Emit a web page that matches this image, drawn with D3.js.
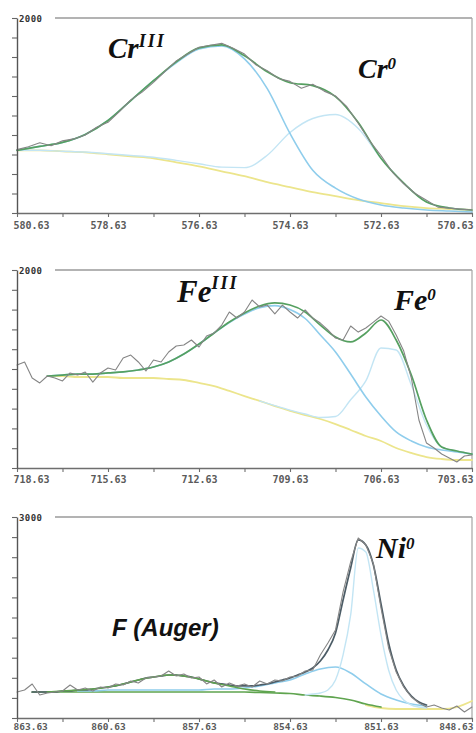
<!DOCTYPE html>
<html><head><meta charset="utf-8">
<script src="https://cdn.jsdelivr.net/npm/d3@7"></script>
<style>body{margin:0;background:#fff}svg{display:block}</style>
</head><body>
<svg id="c" width="476" height="733"></svg>
<script>
// ---------- Cr 2p ----------
const crBE = [580.63,580.13,579.63,579.13,578.63,578.13,577.63,577.13,576.63,576.13,575.63,575.13,574.63,574.13,573.63,573.13,572.63,572.13,571.63,571.13,570.63];
const crRawBE = [580.63,580.38,580.13,579.88,579.63,579.38,579.13,578.88,578.63,578.38,578.13,577.88,577.63,577.38,577.13,576.88,576.63,576.38,576.13,575.88,575.63,575.38,575.13,574.88,574.63,574.38,574.13,573.88,573.63,573.38,573.13,572.88,572.63,572.38,572.13,571.88,571.63,571.38,571.13,570.88,570.63];
const crRaw = [650,680,720,690,740,760,800,880,930,1040,1160,1240,1340,1450,1560,1630,1700,1720,1740,1690,1630,1520,1460,1380,1350,1280,1320,1250,1200,1090,920,740,590,420,300,200,130,60,50,40,30];
const crEnvelope = [643,683,724,806,949,1153,1357,1550,1693,1724,1612,1448,1336,1306,1193,928,561,306,112,51,31];
const crIII = [643,683,724,806,949,1153,1357,1540,1683,1714,1581,1276,816,439,255,143,82,51,31,20,10];
const cr0 = [643,643,634,625,608,590,572,540,505,470,465,592,826,969,1010,867,561,306,112,51,31];
const crBackground = [643,643,632,622,602,581,561,520,479,428,377,316,265,214,173,133,102,71,51,41,31];
const crTickValues = [580.63,579.63,578.63,577.63,576.63,575.63,574.63,573.63,572.63,571.63,570.63];
const crTickLabels = ["580.63","","578.63","","576.63","","574.63","","572.63","","570.63"];
const crYTicks = [0,200,400,600,800,1000,1200,1400,1600,1800,2000];

// ---------- Fe 2p ----------
const feBE = [718.63,718.13,717.63,717.13,716.63,716.13,715.63,715.13,714.63,714.13,713.63,713.13,712.63,712.13,711.63,711.13,710.63,710.13,709.63,709.13,708.63,708.13,707.63,707.13,706.63,706.13,705.63,705.13,704.63,704.13,703.63];
const feRawBE = [718.63,718.38,718.13,717.88,717.63,717.38,717.13,716.88,716.63,716.38,716.13,715.88,715.63,715.38,715.13,714.88,714.63,714.38,714.13,713.88,713.63,713.38,713.13,712.88,712.63,712.38,712.13,711.88,711.63,711.38,711.13,710.88,710.63,710.38,710.13,709.88,709.63,709.38,709.13,708.88,708.63,708.38,708.13,707.88,707.63,707.38,707.13,706.88,706.63,706.38,706.13,705.88,705.63,705.38,705.13,704.88,704.63,704.38,704.13,703.88,703.63];
const feRaw = [1040,1071,909,859,929,909,879,960,939,970,868,960,1010,990,1111,1141,1071,980,1091,1071,1172,1232,1242,1293,1222,1333,1364,1444,1576,1515,1576,1697,1626,1646,1556,1646,1576,1515,1596,1515,1464,1394,1313,1293,1434,1373,1414,1474,1535,1484,1343,1181,909,485,252,202,141,101,61,121,131];
const feEnvelope = [null,null,929,939,949,949,960,970,990,1020,1071,1151,1252,1364,1475,1566,1636,1667,1646,1576,1444,1323,1273,1364,1495,1293,939,485,212,172,141];
const feIII = [null,null,929,939,949,949,960,970,990,1020,1071,1151,1252,1364,1470,1555,1620,1640,1600,1510,1343,1172,949,717,525,364,273,212,182,162,141];
const fe0 = [null,null,null,null,null,null,null,null,null,null,null,null,null,null,null,null,677,630,585,545,510,520,690,880,1212,1192,838,434,212,172,141];
const feBackground = [null,null,929,929,919,919,919,909,909,909,899,889,859,828,778,727,677,626,576,535,495,444,384,323,273,202,152,111,91,81,81];
const feTickValues = [718.63,717.13,715.63,714.13,712.63,711.13,709.63,708.13,706.63,705.13,703.63];
const feTickLabels = ["718.63","","715.63","","712.63","","709.63","","706.63","","703.63"];
const feYTicks = [0,200,400,600,800,1000,1200,1400,1600,1800,2000];

// ---------- Ni 2p ----------
const niBE = [863.63,863.13,862.63,862.13,861.63,861.13,860.63,860.13,859.63,859.13,858.63,858.13,857.63,857.13,856.63,856.13,855.63,855.13,854.63,854.13,853.63,853.13,852.63,852.13,851.63,851.13,850.63,850.13,849.63,849.13,848.63];
const niRawBE = [863.63,863.38,863.13,862.88,862.63,862.38,862.13,861.88,861.63,861.38,861.13,860.88,860.63,860.38,860.13,859.88,859.63,859.38,859.13,858.88,858.63,858.38,858.13,857.88,857.63,857.38,857.13,856.88,856.63,856.38,856.13,855.88,855.63,855.38,855.13,854.88,854.63,854.38,854.13,853.88,853.63,853.38,853.13,852.88,852.63,852.38,852.13,851.88,851.63,851.38,851.13,850.88,850.63,850.38,850.13,849.88,849.63,849.38,849.13,848.88,848.63];
const niRaw = [388,418,508,343,373,388,403,493,418,448,403,463,448,508,493,552,523,597,612,627,702,627,657,597,612,508,567,463,523,478,508,463,552,508,567,552,612,627,702,717,941,1120,1314,1881,2329,2687,2583,2300,1642,1045,687,463,314,224,164,194,149,119,179,90,164];
const niEnvelope = [null,null,388,388,388,388,403,403,418,418,433,448,463,478,508,537,567,597,612,627,642,642,627,612,582,552,523,508,493,478,478,478,493,508,537,567,597,642,687,747,851,1015,1269,1762,2240,2658,2583,2284,1702,1120,717,478,328,239,194,null,null,null,null,null,null];
const niMetal = [null,null,null,null,null,null,null,null,null,null,null,null,null,null,null,null,null,null,null,null,null,null,null,null,null,null,null,null,null,null,null,null,null,null,null,null,null,null,343,358,373,418,567,941,1538,2538,2478,1911,1239,717,418,269,194,164,149,null,null,null,null,null,null];
const niBroad = [null,null,null,null,403,403,418,418,418,418,418,418,418,433,433,448,478,523,567,657,732,761,672,508,358,269,209,179,null,null,null];
const niAuger = [null,null,388,403,418,433,463,508,567,612,642,627,582,523,478,433,403,388,null,null,null,null,null,null,null,null,null,null,null,null,null];
const niBackground = [null,388,388,388,388,388,388,388,388,388,388,388,388,388,388,388,381,373,366,343,328,306,269,209,164,null,null,null,null,null,null];
const niBackground2 = [null,null,null,null,null,null,null,null,null,null,null,null,null,null,null,null,null,null,null,null,null,null,null,194,149,134,134,134,134,164,254];
const niTickValues = [863.63,862.13,860.63,859.13,857.63,856.13,854.63,853.13,851.63,850.13,848.63];
const niTickLabels = ["863.63","","860.63","","857.63","","854.63","","851.63","","848.63"];
const niYTicks = [0,300,600,900,1200,1500,1800,2100,2400,2700,3000];

// ---------- drawing ----------
const svg = d3.select("#c");
const L = 17, R = 472;
const C = {raw:"#858585", env:"#55a060", blue:"#8fcdec", faint:"#c3e5f4", yellow:"#ece58c", dark:"#4c5c66", green:"#5fa44f"};

const panels = [
  {be:crBE, rawBE:crRawBE, top:18, bottom:213, ymax:2000, topLabel:"2000", pad:5, fs:10,
   ticks:crTickValues, labels:crTickLabels, yTicks:crYTicks,
   series:[
     {g:"c", v:crBackground, c:C.yellow, w:1.8},
     {g:"c", v:cr0, c:C.faint, w:1.4},
     {g:"c", v:crIII, c:C.blue, w:1.6},
     {g:"c", v:crEnvelope, c:C.env, w:1.7},
     {g:"f", v:crRaw, c:C.raw, w:1.1, lin:true}
   ]},
  {be:feBE, rawBE:feRawBE, top:270, bottom:468, ymax:2000, topLabel:"2000", pad:4, fs:10,
   ticks:feTickValues, labels:feTickLabels, yTicks:feYTicks,
   series:[
     {g:"c", v:feBackground, c:C.yellow, w:1.8},
     {g:"c", v:fe0, c:C.faint, w:1.4},
     {g:"c", v:feIII, c:C.blue, w:1.6},
     {g:"c", v:feEnvelope, c:C.env, w:1.7},
     {g:"f", v:feRaw, c:C.raw, w:1.1, lin:true}
   ]},
  {be:niBE, rawBE:niRawBE, top:517, bottom:718, ymax:3000, topLabel:"3000", pad:1, fs:9.5,
   ticks:niTickValues, labels:niTickLabels, yTicks:niYTicks,
   series:[
     {g:"c", v:niBackground2, c:C.yellow, w:1.8},
     {g:"c", v:niBackground, c:C.green, w:1.7},
     {g:"c", v:niBroad, c:C.blue, w:1.6},
     {g:"f", v:niMetal, c:C.faint, w:1.4},
     {g:"f", v:niEnvelope, c:C.dark, w:1.7},
     {g:"c", v:niAuger, c:C.green, w:1.5},
     {g:"f", v:niRaw, c:C.raw, w:1.1, lin:true}
   ]}
];

panels.forEach(p => {
  const x = d3.scaleLinear().domain([p.be[0], p.be[p.be.length-1]]).range([L, R]);
  const y = d3.scaleLinear().domain([0, p.ymax]).range([p.bottom, p.top]);
  const g = svg.append("g");

  g.append("line").attr("x1",55).attr("x2",R).attr("y1",p.top).attr("y2",p.top)
    .attr("stroke","#9a9a9a").attr("stroke-width",1.5);
  g.append("line").attr("x1",R).attr("x2",R).attr("y1",p.top).attr("y2",p.bottom)
    .attr("stroke","#a5a5a5").attr("stroke-width",1.2);

  p.series.forEach(s => {
    const grid = s.g === "c" ? p.be : p.rawBE;
    const pts = grid.map((b,i) => [b, s.v[i]]);
    const line = d3.line().defined(d => d[1] != null)
      .x(d => x(d[0])).y(d => y(d[1]))
      .curve(s.lin ? d3.curveLinear : d3.curveMonotoneX);
    g.append("path").attr("d", line(pts)).attr("fill","none")
      .attr("stroke", s.c).attr("stroke-width", s.w)
      .attr("stroke-linejoin","round").attr("stroke-linecap","round");
  });

  const ax = g.append("g").attr("transform",`translate(0,${p.bottom})`)
    .call(d3.axisBottom(x).tickValues(p.ticks).tickFormat((d,i) => p.labels[i])
      .tickSize(4).tickSizeOuter(0).tickPadding(p.pad));
  ax.select(".domain").attr("stroke","#6e6e6e").attr("stroke-width",1.3);
  ax.selectAll(".tick line").attr("stroke","#6e6e6e").attr("stroke-width",1.1);
  ax.selectAll(".tick text").attr("font-family","'DejaVu Sans Mono', monospace")
    .attr("font-weight","bold").attr("font-size",p.fs).attr("fill","#5a5a5a");
  const tt = ax.selectAll(".tick text").nodes();
  d3.select(tt[0]).attr("text-anchor","start").attr("dx",-4);
  d3.select(tt[tt.length-1]).attr("text-anchor","end").attr("dx",1);

  const ay = g.append("g").attr("transform",`translate(${L},0)`)
    .call(d3.axisLeft(y).tickValues(p.yTicks).tickFormat("").tickSize(5).tickSizeOuter(0));
  ay.select(".domain").attr("stroke","#555").attr("stroke-width",1.4);
  ay.selectAll(".tick line").attr("stroke","#666").attr("stroke-width",1.1);

  g.append("text").attr("x",19).attr("y",p.top+3.5).text(p.topLabel)
    .attr("font-family","'DejaVu Sans Mono', monospace").attr("font-weight","bold")
    .attr("font-size",9).attr("fill","#333").attr("textLength",23);
});

function lab(xp, yp, base, sup, size, supSize, dy, ls) {
  const t = svg.append("text").attr("x",xp).attr("y",yp)
    .attr("font-family","'Liberation Serif', 'Times New Roman', serif")
    .attr("font-style","italic").attr("font-weight","bold").attr("fill","#111")
    .attr("font-size",size);
  t.append("tspan").text(base);
  t.append("tspan").attr("font-size",supSize).attr("dy",dy).attr("letter-spacing",ls).text(sup);
}
lab(108, 58, "Cr", "III", 29, 18, -11, 2);
lab(358, 78, "Cr", "0", 28, 17, -9, 0);
lab(177, 302, "Fe", "III", 31, 18, -13, 2);
lab(394, 310, "Fe", "0", 30, 17, -10, 0);
lab(376, 558, "Ni", "0", 30, 17, -9, 0);

svg.append("text").attr("x",112).attr("y",636).text("F (Auger)")
  .attr("font-family","'Liberation Sans', Arial, sans-serif").attr("font-style","italic")
  .attr("font-weight","bold").attr("font-size",24).attr("fill","#111");
</script>
</body></html>
